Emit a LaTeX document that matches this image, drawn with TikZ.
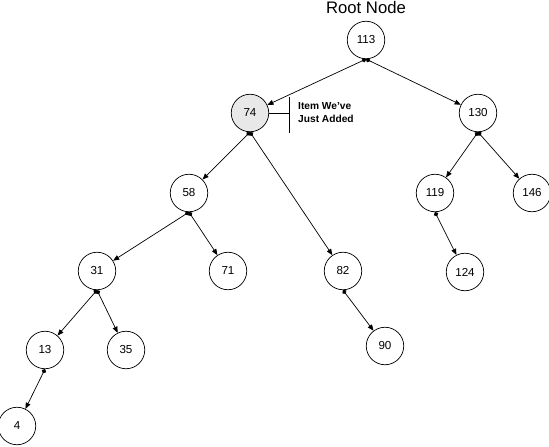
\documentclass[tikz,border=0pt]{standalone}
\usepackage{fontspec}
\setmainfont{Liberation Sans}
\usetikzlibrary{arrows.meta}

\begin{document}
\begin{tikzpicture}[x=0.02cm, y=-0.02cm,
    item/.style={circle, draw, thin, minimum size=0.75cm, inner sep=0pt, font=\fontsize{6.6}{7}\selectfont},
    link/.style={thin, {Circle[length=2.6pt]}-{Triangle[length=3.5pt,width=2.8pt]}}]
    \useasboundingbox (0,0) rectangle (549,447);

    \node[font=\fontsize{9.5}{11}\selectfont] (title) at (366, 8) {Root Node};

    \node[item] (n113) at (366, 40) {113};
    \node[item, fill=black!9] (n74) at (250, 113) {74};
    \node[item] (n130) at (478, 113) {130};
    \node[item] (n58) at (189, 193) {58};
    \node[item] (n119) at (435, 193) {119};
    \node[item] (n146) at (532, 193) {146};
    \node[item] (n31) at (97, 271) {31};
    \node[item] (n71) at (228, 271) {71};
    \node[item] (n82) at (343, 271) {82};
    \node[item] (n124) at (465, 272) {124};
    \node[item] (n13) at (45, 350) {13};
    \node[item] (n35) at (126, 350) {35};
    \node[item] (n90) at (385, 346) {90};
    \node[item] (n4) at (17, 426) {4};

    \draw[link] (n113.south) -- (n74);
    \draw[link] (n113.south) -- (n130);
    \draw[link] (n74.south) -- (n58);
    \draw[link] (n74.south) -- (n82);
    \draw[link] (n130.south) -- (n119);
    \draw[link] (n130.south) -- (n146);
    \draw[link] (n58.south) -- (n31);
    \draw[link] (n58.south) -- (n71);
    \draw[link] (n119.south) -- (n124);
    \draw[link] (n82.south) -- (n90);
    \draw[link] (n31.south) -- (n13);
    \draw[link] (n31.south) -- (n35);
    \draw[link] (n13.south) -- (n4);

    % callout for the new item
    \coordinate (bar) at (289, 113);
    \draw[thin] (n74.east) -- (bar);
    \draw[thin] (289, 97) -- (289, 133);
    \node[anchor=west, align=left, font=\fontsize{5.8}{7.4}\selectfont\bfseries] (note) at (292, 113) {Item We've\\Just Added};
\end{tikzpicture}
\end{document}
